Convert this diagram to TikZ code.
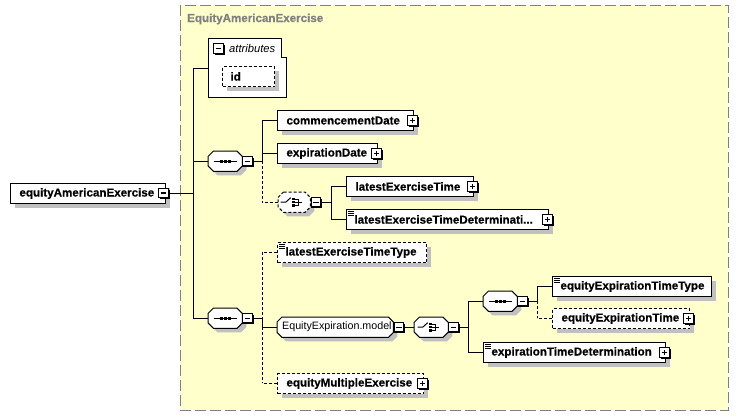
\documentclass[tikz,border=0pt]{standalone}
\usepackage{fontspec}
\setmainfont{Liberation Sans}[BoldFeatures={FakeBold=0.5}]
\usetikzlibrary{calc,shadows}
\definecolor{bgyellow}{RGB}{255,255,204}
\definecolor{framegray}{RGB}{128,128,128}
\definecolor{shadegray}{RGB}{192,192,192}
\newcommand\chamf[3][]{\path[#1] ($(#2.north west)+(#3,0pt)$) -- ($(#2.north east)+(-#3,0pt)$) -- ($(#2.north east)+(0pt,-#3)$) -- ($(#2.south east)+(0pt,#3)$) -- ($(#2.south east)+(-#3,0pt)$) -- ($(#2.south west)+(#3,0pt)$) -- ($(#2.south west)+(0pt,#3)$) -- ($(#2.north west)+(0pt,-#3)$) -- cycle;}
\newcommand\seqsym[1]{\draw[line width=1pt] ($(#1.center)+(-11.5pt,0pt)$) -- ($(#1.center)+(11.5pt,0pt)$);
  \foreach \dx in {-4,0,4}{\fill ($(#1.center)+(\dx pt-1.6pt,-1.6pt)$) rectangle +(3.2pt,3.2pt);}}
\newcommand\chsym[1]{\begin{scope}[shift={(#1.center)},line width=1pt]
  \draw (-13.5,0) -- (-8.5,0) -- (-3.5,-4.5);
  \foreach \dy in {-3.2,0,3.2}{\fill (-1.8,\dy-1.1) rectangle (0.6,\dy+1.1);}
  \draw (0.6,-3.2) -- (4,-3.2) -- (4,3.2) -- (0.6,3.2);
  \draw (0.6,0) -- (7.5,0);
  \end{scope}}
\newcommand\cplx[1]{\foreach \dy in {2.3,4.3,6.3}{\draw[line width=0.8pt] ($(#1.north west)+(2pt,-\dy pt)$) -- +(5.5pt,0pt);}}
\begin{document}
\begin{tikzpicture}[x=1pt,y=-1pt,
  efont/.style={font=\fontsize{11.6}{13}\selectfont\bfseries},
  shad/.style={drop shadow={shadow xshift=4pt,shadow yshift=-4pt,fill=shadegray,opacity=1}},
  elem/.style={draw,fill=white,line width=1pt,anchor=north west,inner xsep=9pt,inner ysep=0pt,minimum height=20pt,efont,shad},
  opt/.style={dash pattern=on 3pt off 2pt},
  comp/.style={anchor=north west,minimum width=34pt,minimum height=20pt,inner sep=0pt},
  pmb/.style={draw,fill=white,line width=1.1pt,minimum size=9.5pt,inner sep=0pt,drop shadow={shadow xshift=1.5pt,shadow yshift=-1.5pt,fill=black,opacity=1}},
  minus/.style={pmb,path picture={\draw[line width=1.1pt] ($(path picture bounding box.west)+(2pt,0pt)$) -- ($(path picture bounding box.east)+(-2pt,0pt)$);}},
  plus/.style={pmb,path picture={\draw[line width=1.1pt] ($(path picture bounding box.west)+(2pt,0pt)$) -- ($(path picture bounding box.east)+(-2pt,0pt)$);
     \draw[line width=1.1pt] ($(path picture bounding box.north)+(0pt,-2pt)$) -- ($(path picture bounding box.south)+(0pt,2pt)$);}},
  conn/.style={line width=1pt},
  optl/.style={line width=1pt,dash pattern=on 3pt off 2pt}]
\useasboundingbox (0,0) rectangle (739,416);
% frame
\draw[framegray,line width=1pt,dash pattern=on 11pt off 4pt,fill=bgyellow] (180,5) rectangle (728,410);
\node[anchor=west,text=framegray,efont,inner xsep=3pt] (title) at (184,19) {EquityAmericanExercise};
% root
\node[elem] (root) at (10,183) {\makebox[137pt][l]{equityAmericanExercise}};
\node[minus] (rootm) at (163.5,193) {};
% attributes
\node[anchor=north west,minimum width=78pt,minimum height=59pt,inner sep=0pt] (attr) at (208,38) {};
\draw[line width=1pt,fill=white] (attr.north west) -- ($(attr.north east)+(-5pt,0pt)$) -- ($(attr.north east)+(-5pt,-19pt)$) -- ($(attr.north east)+(0pt,-19pt)$) -- (attr.south east) -- (attr.south west) -- cycle;
\node[minus] (attrm) at (218.5,48.5) {};
\node[anchor=west,font=\fontsize{11.2}{13}\selectfont\itshape,inner xsep=3pt] (attrt) at (226,48) {attributes};
\node[elem,opt,inner xsep=8pt] (id) at (222,66) {\makebox[36pt][l]{id}};
% main spine
\coordinate (spa) at (193,68);
\coordinate (spb) at (193,318);
\draw[conn] (rootm.east) -- (rootm.east -| spa);
\draw[conn] (spa) -- (spb);
\draw[conn] (spa) -- (attr.west |- spa);
% sequence 1
\node[comp] (s1) at (208,151) {};
\chamf[draw,fill=white,line width=1pt,shad]{s1}{5.5pt}
\seqsym{s1}
\node[minus] (s1m) at ($(s1.east)+(5pt,0pt)$) {};
\draw[conn] (s1.west) -- (s1.west -| spa);
\node[elem] (comm) at (277,110) {\makebox[118pt][l]{commencementDate}};
\node[plus] (commp) at ($(comm.east)+(-1.5pt,0pt)$) {};
\node[elem] (expd) at (277,143) {\makebox[82pt][l]{expirationDate}};
\node[plus] (expdp) at ($(expd.east)+(-1.5pt,0pt)$) {};
\node[comp,minimum width=32pt] (c1) at (278,192) {};
\chamf[draw,fill=white,line width=1pt,opt,shad]{c1}{5.5pt}
\chsym{c1}
\node[minus] (c1m) at ($(c1.east)+(5.5pt,0pt)$) {};
\coordinate (sq1) at (262,120);
\coordinate (sq1m) at (262,161);
\coordinate (sq1b) at (262,202);
\draw[conn] (s1m.east) -- (s1m.east -| sq1);
\draw[conn] (sq1) -- (sq1m);
\draw[optl] (sq1m) -- (sq1b);
\draw[conn] (comm.west) -- (comm.west -| sq1);
\draw[conn] (expd.west) -- (expd.west -| sq1);
\draw[optl] (c1.west) -- (c1.west -| sq1);
\node[elem] (let) at (346,176) {\makebox[109pt][l]{latestExerciseTime}};
\node[plus] (letp) at ($(let.east)+(-1.5pt,0pt)$) {};
\node[elem,inner xsep=8pt] (letd) at (346,209) {\makebox[186pt][l]{latestExerciseTimeDeterminati...}};
\cplx{letd}
\node[plus] (letdp) at ($(letd.east)+(-1.5pt,0pt)$) {};
\coordinate (ch1a) at (331,186);
\coordinate (ch1b) at (331,219);
\draw[conn] (c1m.east) -- (c1m.east -| ch1a);
\draw[conn] (ch1a) -- (ch1b);
\draw[conn] (let.west) -- (let.west -| ch1a);
\draw[conn] (letd.west) -- (letd.west -| ch1a);
% sequence 2
\node[comp] (s2) at (208,308) {};
\chamf[draw,fill=white,line width=1pt,shad]{s2}{5.5pt}
\seqsym{s2}
\node[minus] (s2m) at ($(s2.east)+(5pt,0pt)$) {};
\draw[conn] (s2.west) -- (s2.west -| spa);
\node[elem,opt,inner xsep=8pt] (lett) at (277,242) {\makebox[133pt][l]{latestExerciseTimeType}};
\cplx{lett}
\node[comp,minimum width=116pt] (grp) at (277,317) {};
\chamf[draw,fill=white,line width=1pt,shad]{grp}{5pt}
\node[anchor=west,inner sep=0pt,font=\fontsize{10.7}{13}\selectfont] (grpt) at ($(grp.west)+(5pt,0pt)$) {EquityExpiration.model};
\node[minus] (grpm) at ($(grp.east)+(5.5pt,0pt)$) {};
\node[elem,opt] (eme) at (277,373) {\makebox[128pt][l]{equityMultipleExercise}};
\node[plus] (emep) at ($(eme.east)+(-1.5pt,0pt)$) {};
\coordinate (sq2a) at (262,252);
\coordinate (sq2b) at (262,383);
\draw[optl] (sq2a) -- (sq2b);
\draw[conn] (s2m.east) -- (s2m.east -| sq2a) -- (grp.west -| sq2a) -- (grp.west);
\draw[optl] (lett.west) -- (lett.west -| sq2a);
\draw[optl] (eme.west) -- (eme.west -| sq2a);
% choice 2
\node[comp] (c2) at (414,317) {};
\chamf[draw,fill=white,line width=1pt,shad]{c2}{5.5pt}
\chsym{c2}
\node[minus] (c2m) at ($(c2.east)+(5pt,0pt)$) {};
\draw[conn] (grpm.east) -- (c2.west);
\coordinate (ch2a) at (468,301);
\coordinate (ch2b) at (468,352);
\draw[conn] (c2m.east) -- (c2m.east -| ch2a);
\draw[conn] (ch2a) -- (ch2b);
% sequence 3
\node[comp] (s3) at (483,291) {};
\chamf[draw,fill=white,line width=1pt,shad]{s3}{5.5pt}
\seqsym{s3}
\node[minus] (s3m) at ($(s3.east)+(5pt,0pt)$) {};
\draw[conn] (s3.west) -- (s3.west -| ch2a);
\node[elem,inner xsep=8pt] (extd) at (483,342) {\makebox[166pt][l]{expirationTimeDetermination}};
\cplx{extd}
\node[plus] (extdp) at ($(extd.east)+(-1.5pt,0pt)$) {};
\draw[conn] (extd.west) -- (extd.west -| ch2a);
\node[elem,inner xsep=8pt] (eett) at (552,276) {\makebox[143pt][l]{equityExpirationTimeType}};
\cplx{eett}
\node[elem,opt] (eet) at (552,308) {\makebox[119pt][l]{equityExpirationTime}};
\node[plus] (eetp) at ($(eet.east)+(-1.5pt,0pt)$) {};
\coordinate (sq3a) at (537,286);
\coordinate (sq3m) at (537,301);
\coordinate (sq3b) at (537,318);
\draw[conn] (s3m.east) -- (s3m.east -| sq3a);
\draw[conn] (sq3a) -- (sq3m);
\draw[optl] (sq3m) -- (sq3b);
\draw[conn] (eett.west) -- (eett.west -| sq3a);
\draw[optl] (eet.west) -- (eet.west -| sq3a);
\end{tikzpicture}
\end{document}
